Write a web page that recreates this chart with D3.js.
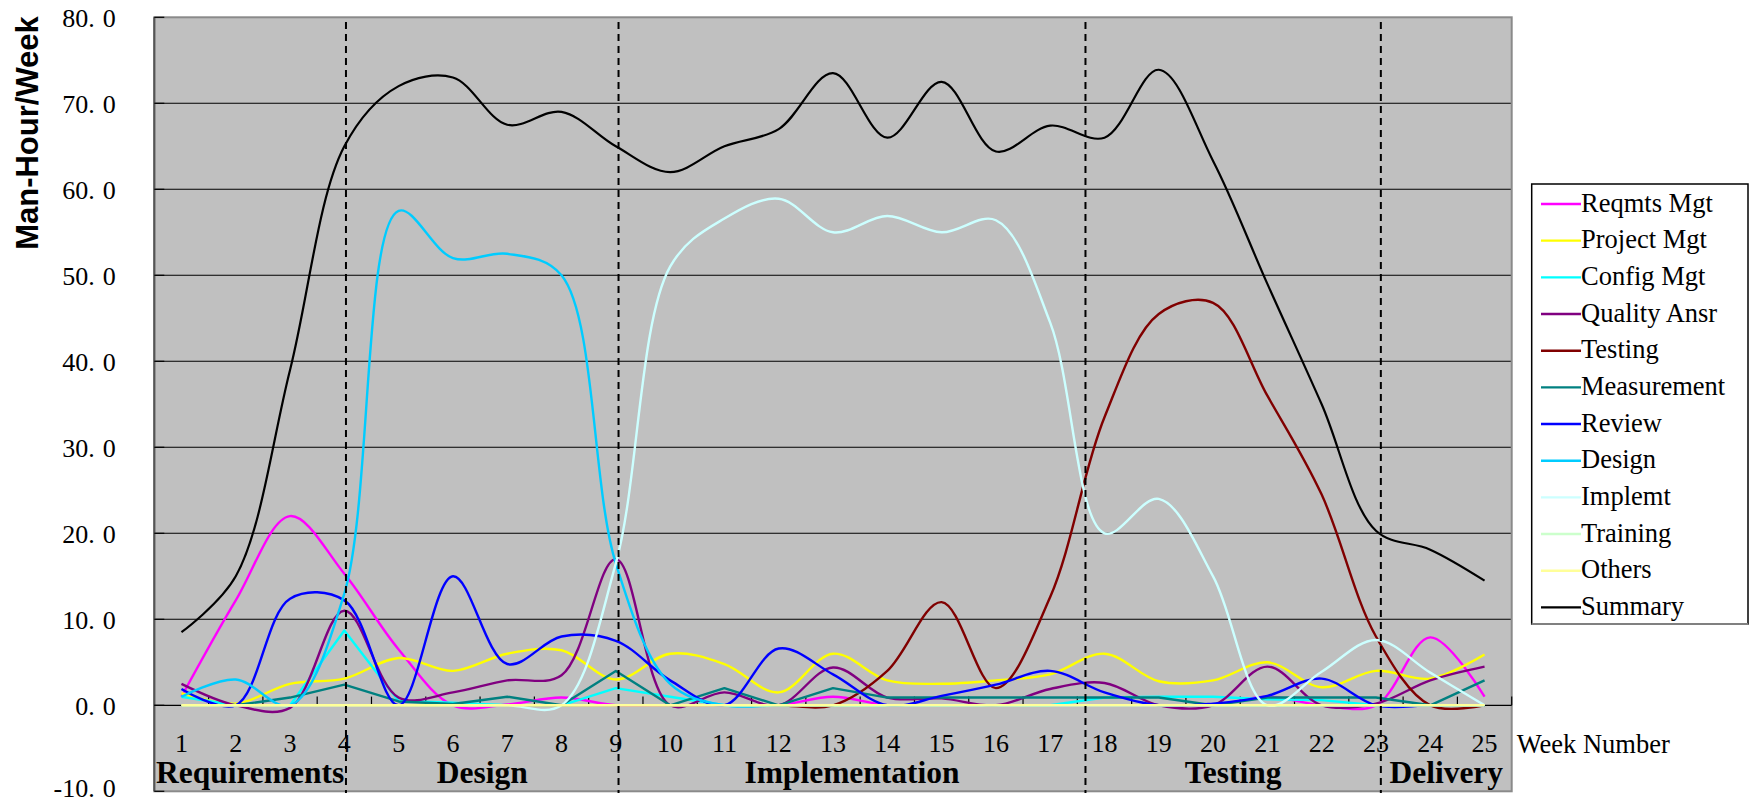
<!DOCTYPE html>
<html><head><meta charset="utf-8">
<script src="https://cdn.jsdelivr.net/npm/d3@7"></script>
<style>body{margin:0;background:#fff;overflow:hidden}</style>
</head><body><svg id="c" width="1749" height="802"></svg>
<script>
// ---------------- DATA ----------------
const weeks = [1,2,3,4,5,6,7,8,9,10,11,12,13,14,15,16,17,18,19,20,21,22,23,24,25];
const seriesNames = ["Reqmts Mgt","Project Mgt","Config Mgt","Quality Ansr","Testing","Measurement","Review","Design","Implemt","Training","Others","Summary"];
const reqmtsMgt   = [1,12.2,22,15.3,6.5,0,0.1,0.9,0,0,0,0,1,0,0,0,0,0,0,0,1,0,0,7.9,1];
const projectMgt  = [1.4,0.2,2.5,3.1,5.5,4,6,6.4,3,6,4.8,1.5,6,2.9,2.5,2.9,3.6,6,2.8,2.9,5,2.1,4,3.1,5.9];
const configMgt   = [1,0,0,8.7,0.5,0.3,0,0,2,1,0,0,0,0,0,0,0,0.9,1,1,0.7,0.6,0,0,0];
const qualityAnsr = [2.5,0,-0.3,11,0.9,1.5,2.9,3.5,17,0,1.5,0,4.4,0.9,0.8,0,1.9,2.6,0,0,4.5,0,0.2,2.9,4.5];
const testing     = [0,0,0,0,0,0,0,0,0,0,0,0,0,4,12,2,12.6,33.5,45.5,46.8,36,24.5,8,0,0];
const measurement = [0,0,0.9,2.4,0.45,0.15,1,0,4,0,2,0,2,0.9,0.9,0.9,0.9,0.9,0.9,0,0.9,0.9,0.9,0,2.9];
const review      = [1.9,0,12.4,12.2,0,15,4.8,8,7.5,2.9,0,6.6,3.6,0,1.1,2.4,4,1.5,0,0.2,1.1,3.1,0,0,0];
const design      = [1,3,0,13,57.5,52,52.5,50,16.5,2.5,0,0,0,0,0,0,0,0,0,0,0,0,0,0,0];
const implemt     = [0,0,0,0,0,0,0,0,16.5,51,56.6,58.9,55,56.9,55,56.4,44.5,20,24,15,0,3.9,7.6,3.8,0];
const training    = [0,0,0,0,0,0,0,0,0,0,0,0,0,0,0,0,0,0,0,0,0,0,0,0,0];
const others      = [0,0,0,0,0,0,0,0,0,0,0,0,0,0,0,0,0,0,0,0,0,0,0,0,0];
const summary     = [8.5,15,39,65,72,73,67.5,69,65,62,65,67,73.5,66,72.5,64.4,67.4,66,73.9,63.3,49,35,20.3,18.1,14.5];
const seriesColors = ["#FF00FF","#FFFF00","#00FFFF","#800080","#800000","#008080","#0000FF","#00CCFF","#CCFFFF","#CCFFCC","#FFFF99","#000000"];
const seriesLinear = [false,false,true,false,false,true,false,false,false,false,false,false];
const yTicks = [-10,0,10,20,30,40,50,60,70,80];
const yTickLabels = ["-10.0","0.0","10.0","20.0","30.0","40.0","50.0","60.0","70.0","80.0"];
const phaseNames = ["Requirements","Design","Implementation","Testing","Delivery"];
const phaseBounds = [4.03, 9.05, 17.65, 23.09];
const yTitle = "Man-Hour/Week";
const xTitle = "Week Number";

// ---------------- CHART ----------------
const allSeries = [reqmtsMgt,projectMgt,configMgt,qualityAnsr,testing,measurement,review,design,implemt,training,others,summary];
const svg = d3.select("#c");
const P = {left:154.3, right:1511.7, top:17.3, bottom:791.3};
const serif = "'Liberation Serif','Times New Roman',serif";

const x = d3.scaleBand().domain(weeks).range([P.left, P.right]).paddingInner(0).paddingOuter(0);
const xw = d3.scaleLinear().domain([0.5, weeks.length + 0.5]).range([P.left, P.right]);
const y = d3.scaleLinear().domain([-10, 80]).range([P.bottom, P.top]);
const cx = w => x(w) + x.bandwidth()/2;

// plot background
svg.append("rect").attr("x",P.left).attr("y",P.top).attr("width",P.right-P.left).attr("height",P.bottom-P.top)
  .attr("fill","#C0C0C0");

// gridlines
svg.append("g").selectAll("line").data(yTicks.filter(t => t > 0 && t < 80)).join("line")
  .attr("x1",P.left).attr("x2",P.right).attr("y1",d=>y(d)).attr("y2",d=>y(d))
  .attr("stroke","#000").attr("stroke-width",1.1);

// plot border
svg.append("rect").attr("x",P.left).attr("y",P.top).attr("width",P.right-P.left).attr("height",P.bottom-P.top)
  .attr("fill","none").attr("stroke","#8a8a8a").attr("stroke-width",2);
svg.append("line").attr("x1",P.left).attr("x2",P.left).attr("y1",P.top).attr("y2",P.bottom)
  .attr("stroke","#555").attr("stroke-width",2);

// y ticks (inside) and labels
svg.append("g").selectAll("line").data(yTicks).join("line")
  .attr("x1",P.left).attr("x2",P.left+10).attr("y1",d=>y(d)).attr("y2",d=>y(d))
  .attr("stroke","#000").attr("stroke-width",1.2);
const yl = svg.append("g").selectAll("text").data(yTicks).join("text")
  .attr("x",115.7).attr("y",d=>Math.min(y(d)+10, 797)).attr("text-anchor","end")
  .attr("font-family",serif).attr("font-size",26).attr("fill","#000");
yl.each(function(d,i){
  const s = yTickLabels[i]; const k = s.indexOf(".");
  const t = d3.select(this);
  t.append("tspan").text(s.slice(0,k+1));
  t.append("tspan").attr("dx",8).text(s.slice(k+1));
});

// x axis at zero with ticks at band boundaries
svg.append("line").attr("x1",P.left).attr("x2",P.right).attr("y1",y(0)).attr("y2",y(0))
  .attr("stroke","#000").attr("stroke-width",1.3);
svg.append("g").selectAll("line").data(weeks).join("line")
  .attr("x1",d=>x(d)+x.bandwidth()).attr("x2",d=>x(d)+x.bandwidth())
  .attr("y1",y(0)).attr("y2",y(0)-8.7).attr("stroke","#000").attr("stroke-width",1.2);

// week labels
svg.append("g").selectAll("text").data(weeks).join("text")
  .attr("x",d=>cx(d)).attr("y",752).attr("text-anchor","middle")
  .attr("font-family",serif).attr("font-size",26).attr("fill","#000").text(d=>d);
svg.append("text").attr("x",P.right+5).attr("y",752.5).attr("font-family",serif).attr("font-size",26.5)
  .attr("fill","#000").text(xTitle);

// series lines
allSeries.forEach((vals, si) => {
  const line = d3.line()
    .x((d,i) => cx(weeks[i]))
    .y(d => y(d))
    .curve(seriesLinear[si] ? d3.curveLinear : d3.curveCatmullRom.alpha(0.5));
  svg.append("path").datum(vals).attr("d", line)
    .attr("fill","none").attr("stroke",seriesColors[si])
    .attr("stroke-width", si === 11 ? 2.2 : 2.4).attr("stroke-linejoin","round");
});

// phase dashed lines
svg.append("g").selectAll("line").data(phaseBounds).join("line")
  .attr("x1",d=>xw(d)).attr("x2",d=>xw(d)).attr("y1",22).attr("y2",793)
  .attr("stroke","#000").attr("stroke-width",2).attr("stroke-dasharray","7,5");

// phase labels
const edges = [0.5, ...phaseBounds, weeks.length + 0.5];
svg.append("g").selectAll("text").data(phaseNames).join("text")
  .attr("x",(d,i)=> (xw(edges[i]) + xw(edges[i+1]))/2).attr("y",783)
  .attr("text-anchor","middle").attr("font-family",serif).attr("font-weight","bold")
  .attr("font-size",31.5).attr("fill","#000").text(d=>d);

// y title
svg.append("text").attr("transform","translate(38,133) rotate(-90)").attr("text-anchor","middle")
  .attr("font-family","'Liberation Sans',Arial,sans-serif").attr("font-weight","bold")
  .attr("font-size",31).attr("fill","#000").text(yTitle);

// legend
const L = {x:1531.7, y:184, w:1749-1531.7-1, h:440};
svg.append("rect").attr("x",L.x).attr("y",L.y).attr("width",L.w).attr("height",L.h)
  .attr("fill","#fff").attr("stroke","#000").attr("stroke-width",1.5);
svg.append("line").attr("x1",L.x).attr("x2",L.x+L.w).attr("y1",L.y+L.h).attr("y2",L.y+L.h)
  .attr("stroke","#808080").attr("stroke-width",2);
const lg = svg.append("g").selectAll("g").data(seriesNames).join("g")
  .attr("transform",(d,i)=>`translate(0,${204 + i*36.67})`);
lg.append("line").attr("x1",1541).attr("x2",1581).attr("y1",0).attr("y2",0)
  .attr("stroke",(d,i)=>seriesColors[i]).attr("stroke-width",2.4);
lg.append("text").attr("x",1581).attr("y",7.5).attr("font-family",serif).attr("font-size",26.5)
  .attr("fill","#000").text(d=>d);
</script></body></html>
